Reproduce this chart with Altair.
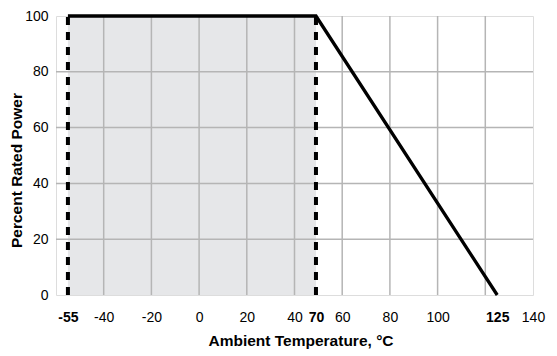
import altair as alt
import pandas as pd

# ---- values ----
x_ticks = [-55, -40, -20, 0, 20, 40, 49, 60, 80, 100, 125, 140]
x_tick_labels = ["-55", "-40", "-20", "0", "20", "40", "70", "60", "80", "100", "125", "140"]
bold_ticks = [-55, 49, 125]
x_grid = [-40, -20, 0, 20, 40, 60, 80, 100, 120]
y_ticks = [0, 20, 40, 60, 80, 100]
y_grid = [20, 40, 60, 80]
curve_x = [-55, 49, 125]          # knee drawn at ~49 on the axis, labelled "70"
curve_y = [100, 100, 0]
region_x = [-55, 49]              # shaded operating region
dashed_x = [-55, 49]

FONT = "Liberation Sans"
W, H = 477, 279

label_expr = " : ".join(
    f"datum.value == {v} ? '{t}'" for v, t in zip(x_ticks, x_tick_labels)
) + " : ''"
bold_test = " || ".join(f"datum.value == {v}" for v in bold_ticks)

xscale = alt.Scale(domain=[-60, 140], nice=False, zero=False)
yscale = alt.Scale(domain=[0, 100], nice=False, zero=False)

xaxis = alt.Axis(
    values=x_ticks, labelExpr=label_expr, grid=False, ticks=False, domain=False,
    labelOverlap=False, labelFlush=False, labelBound=False, labelPadding=15,
    labelFontSize=14, labelFont=FONT, labelColor="#000",
    labelFontWeight=alt.condition(bold_test, alt.value("bold"), alt.value("normal")),
    title="Ambient Temperature, °C", titleFont=FONT, titleFontSize=15.5,
    titleFontWeight="bold", titleColor="#000",
    titleX=244.5, titleY=50, titleBaseline="alphabetic", titleAlign="center",
)
yaxis = alt.Axis(
    values=y_ticks, grid=False, ticks=False, domain=False, labelPadding=8,
    labelFontSize=14, labelFont=FONT, labelColor="#000",
    title="Percent Rated Power", titleFont=FONT, titleFontSize=15.5,
    titleFontWeight="bold", titleColor="#000",
    titleX=-35, titleY=154, titleBaseline="alphabetic", titleAlign="center", titleAngle=270,
)

def X(f):
    return alt.X(f, type="quantitative", scale=xscale, axis=xaxis)

def Y(f):
    return alt.Y(f, type="quantitative", scale=yscale, axis=yaxis)

region_df = pd.DataFrame({"x": [region_x[0]], "x2": [region_x[1]], "y": [0], "y2": [100]})
region = alt.Chart(region_df).mark_rect(color="#e6e7e9").encode(
    x=X("x"), x2="x2", y=Y("y"), y2="y2"
)

xg_df = pd.DataFrame({"x": x_grid, "y": 0, "y2": 100})
xgrid = alt.Chart(xg_df).mark_rule(color="#b5b5b5", strokeWidth=1.5).encode(
    x=X("x"), y=Y("y"), y2="y2"
)
yg_df = pd.DataFrame({"y": y_grid, "x": -60, "x2": 140})
ygrid = alt.Chart(yg_df).mark_rule(color="#b5b5b5", strokeWidth=1.5).encode(
    y=Y("y"), x=X("x"), x2="x2"
)

dash_df = pd.DataFrame({"x": dashed_x, "y": 0, "y2": 100})
dashed = alt.Chart(dash_df).mark_rule(color="#000", strokeWidth=4, strokeDash=[8, 7]).encode(
    x=X("x"), y=Y("y"), y2="y2"
)

curve_df = pd.DataFrame({"x": curve_x, "y": curve_y})
curve = alt.Chart(curve_df).mark_line(color="#000", strokeWidth=3.3).encode(
    x=X("x"), y=Y("y")
)

chart = (
    alt.layer(region, xgrid, ygrid, dashed, curve)
    .properties(
        width=W, height=H,
        autosize=alt.AutoSizeParams(type="none"),
        padding={"left": 48, "top": 8, "right": 16, "bottom": 58},
    )
    .configure_view(stroke="#000", strokeWidth=3)
    .configure(background="white")
)

chart.save("out.html", embed_options={"renderer": "svg", "actions": False})
